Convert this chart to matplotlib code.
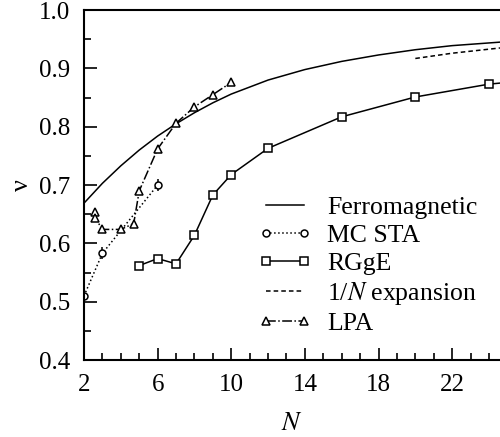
import numpy as np
import matplotlib.pyplot as plt
from matplotlib.ticker import MultipleLocator, FixedLocator

plt.rcParams['font.family'] = ['Liberation Serif', 'DejaVu Serif']
plt.rcParams['mathtext.fontset'] = 'stix'

# Ferromagnetic curve
ferro_n = [2, 3, 4, 5, 6, 7, 8, 9, 10, 12, 14, 16, 18, 20, 22, 24.6]
ferro_v = [0.669, 0.703, 0.733, 0.760, 0.784, 0.805, 0.824, 0.841, 0.856,
           0.880, 0.898, 0.912, 0.923, 0.932, 0.939, 0.945]

# MC STA
mc_n = [2, 3, 6]
mc_v = [0.510, 0.583, 0.700]
mc_err = [0.005, 0.010, 0.010]

# RGgE
rg_n = [5, 6, 7, 8, 9, 10, 12, 16, 20, 24, 25]
rg_v = [0.562, 0.574, 0.565, 0.614, 0.683, 0.718, 0.763, 0.817, 0.851, 0.873, 0.876]

# 1/N expansion
inv_n = [20, 22, 24.6]
inv_v = [0.917, 0.926, 0.935]

# LPA
lpa_n = [2.6, 2.6, 3, 4, 4.7, 5, 6, 7, 8, 9, 10]
lpa_v = [0.653, 0.644, 0.624, 0.624, 0.634, 0.690, 0.762, 0.806, 0.834, 0.855, 0.876]

x_ticks = [2, 6, 10, 14, 18, 22]
y_ticks = [0.4, 0.5, 0.6, 0.7, 0.8, 0.9, 1.0]

fig = plt.figure(figsize=(5, 4.37), dpi=100)
ax = fig.add_axes([0.168, 0.176, 0.832, 0.801])

lw = 1.1
h1, = ax.plot(ferro_n, ferro_v, '-', color='black', lw=lw, label='Ferromagnetic')
ax.errorbar(mc_n, mc_v, yerr=mc_err, fmt='none', ecolor='black', lw=lw, capsize=0)
h2, = ax.plot(mc_n, mc_v, 'o', ls=':', color='black', lw=lw,
              mfc='white', mec='black', ms=5, mew=1.1, label='MC STA')
h3, = ax.plot(rg_n, rg_v, '-s', color='black', lw=lw, mfc='white', mec='black',
              ms=6, mew=1.1, label='RGgE')
h4, = ax.plot(inv_n, inv_v, '--', color='black', lw=lw, dashes=(3, 2),
              label='1/$N$ expansion')
h5, = ax.plot(lpa_n, lpa_v, '-.^', color='black', lw=lw, mfc='white', mec='black',
              ms=6, mew=1.1, label='LPA')

ax.set_xlim(2, 24.6)
ax.set_ylim(0.4, 1.0)
ax.xaxis.set_major_locator(FixedLocator(x_ticks))
ax.xaxis.set_minor_locator(MultipleLocator(1))
ax.set_yticks(y_ticks)
ax.set_yticklabels(['%.1f' % v for v in y_ticks])
ax.yaxis.set_minor_locator(MultipleLocator(0.05))

ax.tick_params(which='both', direction='in', width=1.2, labelsize=18)
ax.tick_params(which='major', length=9, pad=10)
ax.tick_params(which='minor', length=5)
ax.tick_params(top=False, right=False, which='both')
for s in ['left', 'bottom', 'top']:
    ax.spines[s].set_linewidth(1.5)
ax.spines['right'].set_visible(False)

ax.set_xlabel('$N$', fontsize=19, labelpad=12)
ax.set_ylabel('ν', fontsize=19, labelpad=4)

ax.legend(handles=[h1, h2, h3, h4, h5], loc='lower right',
          bbox_to_anchor=(0.99, 0.02), frameon=False,
          fontsize=18.5, handlelength=2.1, handletextpad=0.6, labelspacing=0.2,
          numpoints=2, borderpad=0.2)

fig.savefig('out.png', dpi=100)
